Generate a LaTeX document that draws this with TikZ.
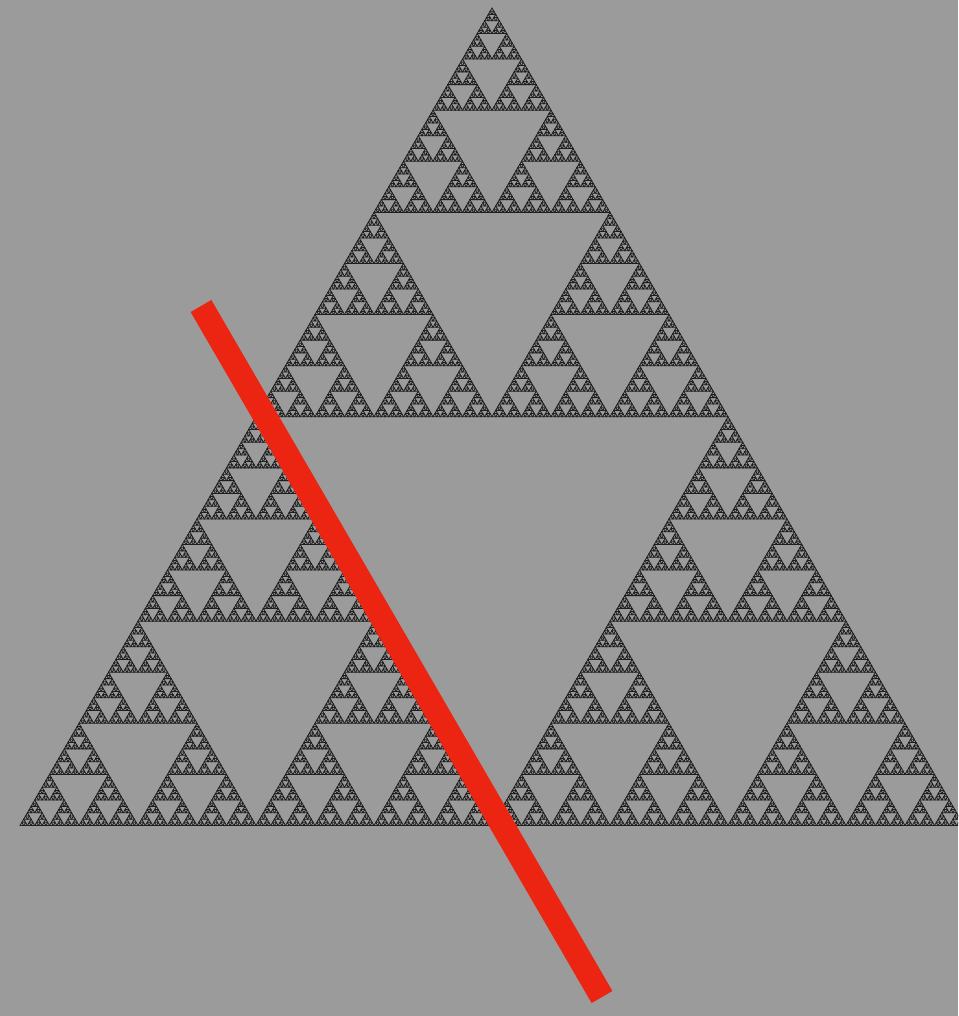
\documentclass[tikz,border=0pt]{standalone}
\usepackage{xcolor}
\usepackage{tikz}
\usetikzlibrary{calc}
\definecolor{bggrey}{RGB}{155,155,155}
\definecolor{trigrey}{RGB}{30,30,30}
\definecolor{redbar}{RGB}{236,36,18}
\tikzset{
  tri/.style   ={draw=trigrey, line width=0.8pt, line join=miter},
  bar/.style   ={draw=redbar, line width=24pt, line cap=butt},
}
% depth, apex x, apex y, side
\newcommand{\sierp}[4]{%
  \ifnum#1=0
    \draw[tri] (#2,#3) -- ++(-#4/2,#4*0.8660254) -- ++(#4,0) -- cycle;
  \else
    \begingroup
    \pgfmathsetmacro{\hs}{#4/2}
    \pgfmathsetmacro{\hh}{#4*0.4330127}
    \pgfmathtruncatemacro{\dd}{#1-1}
    \pgfmathsetmacro{\xl}{#2-#4/4}
    \pgfmathsetmacro{\xr}{#2+#4/4}
    \pgfmathsetmacro{\yb}{#3+\hh}
    \edef\next{\noexpand\sierp{\dd}{#2}{#3}{\hs}%
      \noexpand\sierp{\dd}{\xl}{\yb}{\hs}%
      \noexpand\sierp{\dd}{\xr}{\yb}{\hs}}%
    \expandafter\endgroup\next
  \fi}
\begin{document}
\begin{tikzpicture}[x=1pt,y=-1pt]
\fill[bggrey] (0,0) rectangle (958,1016);
\useasboundingbox (0,0) rectangle (958,1016);
\clip (0,0) rectangle (958,1016);
% the gasket
\sierp{8}{492}{8}{944}
% the cut
\coordinate (top) at (201,306);
\coordinate (bot) at (602,997);
\draw[bar] (top) -- (bot);
\end{tikzpicture}
\end{document}
